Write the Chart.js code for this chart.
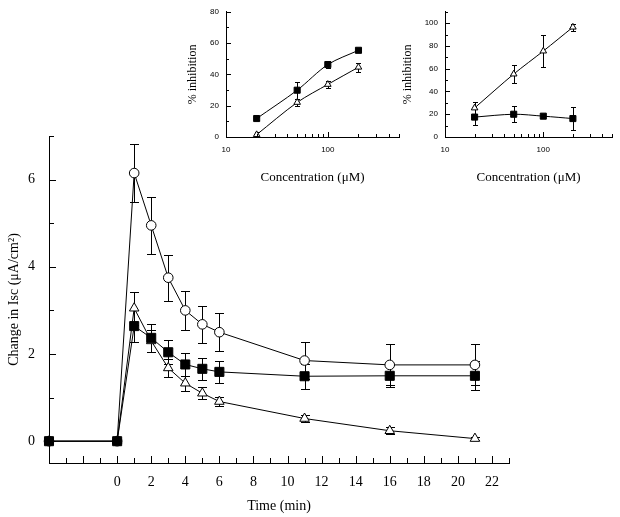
<!DOCTYPE html>
<html>
<head>
<meta charset="utf-8">
<script src="https://cdn.jsdelivr.net/npm/chart.js@4"></script>
<style>
  body { margin: 0; background: #fff; }
  #wrap { position: relative; width: 620px; height: 517px; }
  canvas { position: absolute; top: 0; }
</style>
</head>
<body>
<div id="wrap">
  <canvas id="main" width="620" height="517" style="left:0"></canvas>
  <canvas id="ins1" width="230" height="190" style="left:180px"></canvas>
  <canvas id="ins2" width="225" height="190" style="left:395px"></canvas>
</div>
<script>
// main panel: change in Isc over time
const timeMin = [-4, 0, 1, 2, 3, 4, 5, 6, 11, 16, 21];
const circleIsc = [0, 0, 6.15, 4.95, 3.75, 3.0, 2.68, 2.5, 1.85, 1.75, 1.75];
const circleErr = [0, 0, 0.67, 0.66, 0.53, 0.45, 0.42, 0.43, 0.42, 0.47, 0.47];
const squareIsc = [0, 0, 2.64, 2.37, 2.04, 1.76, 1.66, 1.59, 1.49, 1.5, 1.5];
const squareErr = [0, 0, 0.37, 0.32, 0.28, 0.26, 0.25, 0.25, 0.29, 0.25, 0.33];
const triangleIsc = [0, 0, 3.05, 2.3, 1.68, 1.33, 1.1, 0.91, 0.52, 0.24, 0.06];
const triangleErr = [0, 0, 0.38, 0.25, 0.2, 0.17, 0.14, 0.1, 0.08, 0.08, 0.03];
const timeLabels = [0, 2, 4, 6, 8, 10, 12, 14, 16, 18, 20, 22];
const iscLabels = [0, 2, 4, 6];

// insets: % inhibition vs concentration
const concUM = [20, 50, 100, 200];
const ins1Square = [11.8, 29.9, 46.3, 55.4];
const ins1SquareErr = [1, 5.5, 2.5, 1];
const ins1Triangle = [1.5, 22.1, 33.6, 44.6];
const ins1TriangleErr = [1.5, 2, 2, 2.8];
const ins2Square = [17.5, 20, 18.3, 16.2];
const ins2SquareErr = [7, 7, 1.5, 9.8];
const ins2Triangle = [25.5, 55.3, 75.5, 96.5];
const ins2TriangleErr = [5.5, 8, 14.3, 3];
const concLabels = [10, 100];
const ins1Labels = [0, 20, 40, 60, 80];
const ins2Labels = [0, 20, 40, 60, 80, 100];

const SERIF = 'Liberation Serif';
const SANS = 'Liberation Sans';

function pts(xs, ys) {
  return xs.map((x, i) => ({ x: x, y: ys[i] }));
}

function series(xs, ys, style, r, fill, tension) {
  return {
    data: pts(xs, ys),
    borderColor: '#000',
    borderWidth: 1,
    pointStyle: style,
    pointRadius: r,
    pointBackgroundColor: fill,
    pointBorderColor: '#000',
    pointBorderWidth: 1,
    tension: tension || 0,
    clip: false
  };
}

// error bars, drawn under the markers
function errorBars(errs, cap) {
  return {
    id: 'errorBars',
    beforeDatasetsDraw(chart) {
      const { ctx, scales: { x, y } } = chart;
      ctx.save();
      ctx.strokeStyle = '#000';
      ctx.lineWidth = 1;
      chart.data.datasets.forEach((ds, i) => {
        const e = errs[i];
        if (!e) return;
        ds.data.forEach((p, j) => {
          if (!e[j]) return;
          const px = Math.round(x.getPixelForValue(p.x)) + 0.5;
          const top = Math.round(y.getPixelForValue(p.y + e[j])) + 0.5;
          const bot = Math.round(y.getPixelForValue(p.y - e[j])) + 0.5;
          ctx.beginPath();
          ctx.moveTo(px, top); ctx.lineTo(px, bot);
          ctx.moveTo(px - cap, top); ctx.lineTo(px + cap, top);
          ctx.moveTo(px - cap, bot); ctx.lineTo(px + cap, bot);
          ctx.stroke();
        });
      });
      ctx.restore();
    }
  };
}

// tick marks pointing into the plot; kind() returns 'major', 'minor' or null
function inwardTicks(kindX, kindY, majLen, minLen) {
  return {
    id: 'inwardTicks',
    afterDraw(chart) {
      const { ctx, chartArea: a, scales: { x, y } } = chart;
      ctx.save();
      ctx.strokeStyle = '#000';
      ctx.lineWidth = 1;
      ctx.beginPath();
      x.ticks.forEach(t => {
        const k = kindX(t.value);
        if (!k) return;
        const px = Math.round(x.getPixelForValue(t.value)) + 0.5;
        ctx.moveTo(px, a.bottom);
        ctx.lineTo(px, a.bottom - (k === 'major' ? majLen : minLen));
      });
      y.ticks.forEach(t => {
        const k = kindY(t.value);
        if (!k) return;
        const py = Math.round(y.getPixelForValue(t.value)) + 0.5;
        ctx.moveTo(a.left, py);
        ctx.lineTo(a.left + (k === 'major' ? majLen : minLen), py);
      });
      ctx.stroke();
      ctx.restore();
    }
  };
}

const evenOdd = v => {
  if (Math.abs(v - Math.round(v)) > 1e-6) return null;
  return Math.round(v) % 2 === 0 ? 'major' : 'minor';
};
const logKind = v => {
  const p = Math.pow(10, Math.floor(Math.log10(v) + 1e-9));
  const s = v / p;
  if (Math.abs(s - Math.round(s)) > 1e-6) return null;
  return Math.round(s) === 1 ? 'major' : 'minor';
};
const by20 = v => (Math.round(v) % 20 === 0 ? 'major' : 'minor');

new Chart(document.getElementById('main'), {
  type: 'line',
  data: {
    datasets: [
      series(timeMin, squareIsc, 'rect', 6.4, '#000'),
      series(timeMin, triangleIsc, 'triangle', 5.5, '#fff'),
      series(timeMin, circleIsc, 'circle', 4.8, '#fff')
    ]
  },
  options: {
    responsive: false,
    animation: false,
    layout: { padding: { left: 0, right: 111, top: 136, bottom: 0 } },
    plugins: { legend: { display: false }, tooltip: { enabled: false } },
    scales: {
      x: {
        type: 'linear', min: -4, max: 23,
        grid: { display: false, drawTicks: false },
        border: { color: '#000', width: 1 },
        ticks: {
          stepSize: 1, autoSkip: false, maxRotation: 0, padding: 11,
          color: '#000', font: { family: SERIF, size: 14 },
          callback: v => (timeLabels.includes(v) ? String(v) : '')
        },
        title: {
          display: true, text: 'Time (min)', color: '#000',
          font: { family: SERIF, size: 14 }, padding: { top: 0, bottom: 2 }
        },
        afterFit: s => { s.height = 54; }
      },
      y: {
        min: -0.5, max: 7,
        grid: { display: false, drawTicks: false },
        border: { color: '#000', width: 1 },
        ticks: {
          stepSize: 1, autoSkip: false, padding: 14,
          color: '#000', font: { family: SERIF, size: 14 },
          callback: v => (iscLabels.includes(v) ? String(v) : '')
        },
        title: {
          display: true, text: 'Change in Isc (\u03bcA/cm\u00b2)', color: '#000',
          font: { family: SERIF, size: 14 }, padding: { top: 6, bottom: 0 }
        },
        afterFit: s => { s.width = 49; }
      }
    }
  },
  plugins: [errorBars([squareErr, triangleErr, circleErr], 4.5), inwardTicks(evenOdd, evenOdd, 7, 5)]
});

function insetOptions(yMax, yLabels, yWidth, padRight, padTop) {
  return {
    responsive: false,
    animation: false,
    layout: { padding: { left: 0, right: padRight, top: padTop, bottom: 0 } },
    plugins: { legend: { display: false }, tooltip: { enabled: false } },
    scales: {
      x: {
        type: 'logarithmic', min: 10, max: 500,
        grid: { display: false, drawTicks: false },
        border: { color: '#000', width: 1 },
        ticks: {
          autoSkip: false, maxRotation: 0, padding: 8,
          color: '#000', font: { family: SANS, size: 8 },
          callback: v => (concLabels.includes(v) ? String(v) : '')
        },
        title: {
          display: true, text: 'Concentration (\u03bcM)', color: '#000',
          font: { family: SERIF, size: 13 }, padding: { top: 0, bottom: 5 }
        },
        afterFit: s => { s.height = 53; }
      },
      y: {
        min: 0, max: yMax,
        grid: { display: false, drawTicks: false },
        border: { color: '#000', width: 1 },
        ticks: {
          stepSize: 10, autoSkip: false, padding: 7,
          color: '#000', font: { family: SANS, size: 8 },
          callback: v => (yLabels.includes(v) ? String(v) : '')
        },
        title: {
          display: true, text: '% inhibition', color: '#000',
          font: { family: SERIF, size: 12 }, padding: { top: 6, bottom: 0 }
        },
        afterFit: s => { s.width = yWidth; }
      }
    }
  };
}

new Chart(document.getElementById('ins1'), {
  type: 'line',
  data: {
    datasets: [
      series(concUM, ins1Square, 'rect', 4.3, '#000', 0.3),
      series(concUM, ins1Triangle, 'triangle', 3.8, '#fff', 0.3)
    ]
  },
  options: insetOptions(80, ins1Labels, 46, 11, 6),
  plugins: [errorBars([ins1SquareErr, ins1TriangleErr], 2.5), inwardTicks(logKind, by20, 5, 3)]
});

new Chart(document.getElementById('ins2'), {
  type: 'line',
  data: {
    datasets: [
      series(concUM, ins2Square, 'rect', 4.3, '#000', 0.3),
      series(concUM, ins2Triangle, 'triangle', 3.8, '#fff', 0.3)
    ]
  },
  options: insetOptions(110, ins2Labels, 50, 3, 5),
  plugins: [errorBars([ins2SquareErr, ins2TriangleErr], 2.5), inwardTicks(logKind, by20, 5, 3)]
});
</script>
</body>
</html>
